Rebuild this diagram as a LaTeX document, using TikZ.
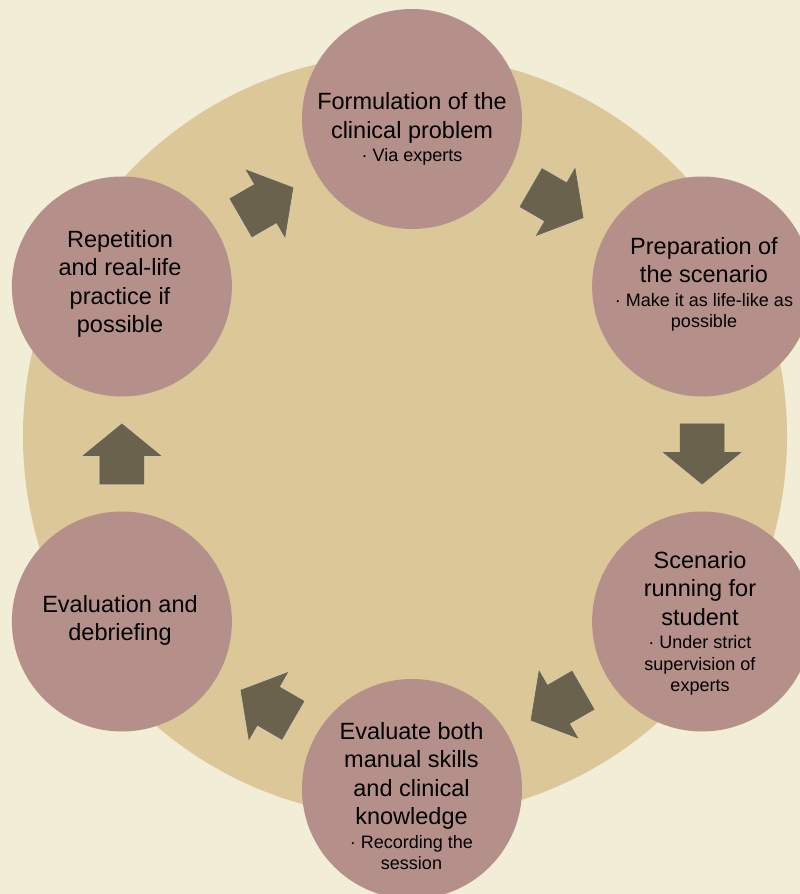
\documentclass[tikz,border=0pt]{standalone}
\usepackage{fontspec}
\setmainfont{Liberation Sans}
\usetikzlibrary{calc}
\definecolor{fondo}{HTML}{F2EDD6}
\definecolor{aro}{HTML}{DBC797}
\definecolor{burb}{HTML}{B58F8A}
\definecolor{flecha}{HTML}{6B624E}
\definecolor{bordeflecha}{HTML}{5E6266}
\newcommand{\sub}[1]{{\fontsize{18}{21.5}\selectfont #1}}% texto chico
\begin{document}
\begin{tikzpicture}[x=1pt,y=1pt,
  burbuja/.style={circle,fill=burb,minimum size=220pt,inner sep=0pt},
  texto/.style={align=center,anchor=base,inner sep=0pt,text=black,font=\fontsize{23.5}{28.5}\selectfont},
  bloque/.pic={\filldraw[fill=flecha,draw=bordeflecha,line width=.6pt] (-30,-22) -- (-1.5,-22) -- (-1.5,-38.5) -- (30,0) -- (-1.5,38.5) -- (-1.5,22) -- (-30,22) -- cycle;}]
\fill[fondo] (0,0) rectangle (800,894);
\useasboundingbox (0,0) rectangle (800,894);
\fill[aro] (405,458) circle (382pt);% aro de fondo
\coordinate (c) at (412,440);
\node[burbuja] (form) at ($(c)+(90:335)$) {};
\node[burbuja] (prep) at ($(c)+(30:335)$) {};
\node[burbuja] (scen) at ($(c)+(-30:335)$) {};
\node[burbuja] (evalb) at ($(c)+(-90:335)$) {};
\node[burbuja] (debr) at ($(c)+(-150:335)$) {};
\node[burbuja] (rep) at ($(c)+(150:335)$) {};
% flechas entre burbujas
\foreach \i/\j/\r in {form/prep/-30,prep/scen/-90,scen/evalb/-150,evalb/debr/150,debr/rep/90,rep/form/30}
  \pic[rotate=\r] at ($(\i)!.5!(\j)$) {bloque};
% textos
\node[texto] (formt) at (412,732) {Formulation of the\\clinical problem\\[-5pt]\sub{· Via experts}};
\node[texto] (prept) at (704,566.3) {Preparation of\\the scenario\\[-5pt]\sub{· Make it as life-like as}\\[-7pt]\sub{possible}};
\node[texto] (scent) at (700,202.3) {Scenario\\running for\\student\\[-5pt]\sub{· Under strict}\\[-7pt]\sub{supervision of}\\[-7pt]\sub{experts}};
\node[texto] (evalbt) at (411.5,24) {Evaluate both\\manual skills\\and clinical\\knowledge\\[-5pt]\sub{· Recording the}\\[-7pt]\sub{session}};
\node[texto] (debrt) at (120,253) {Evaluation and\\debriefing};
\node[texto] (rept) at (120,561.3) {Repetition\\and real-life\\practice if\\possible};
\end{tikzpicture}
\end{document}
